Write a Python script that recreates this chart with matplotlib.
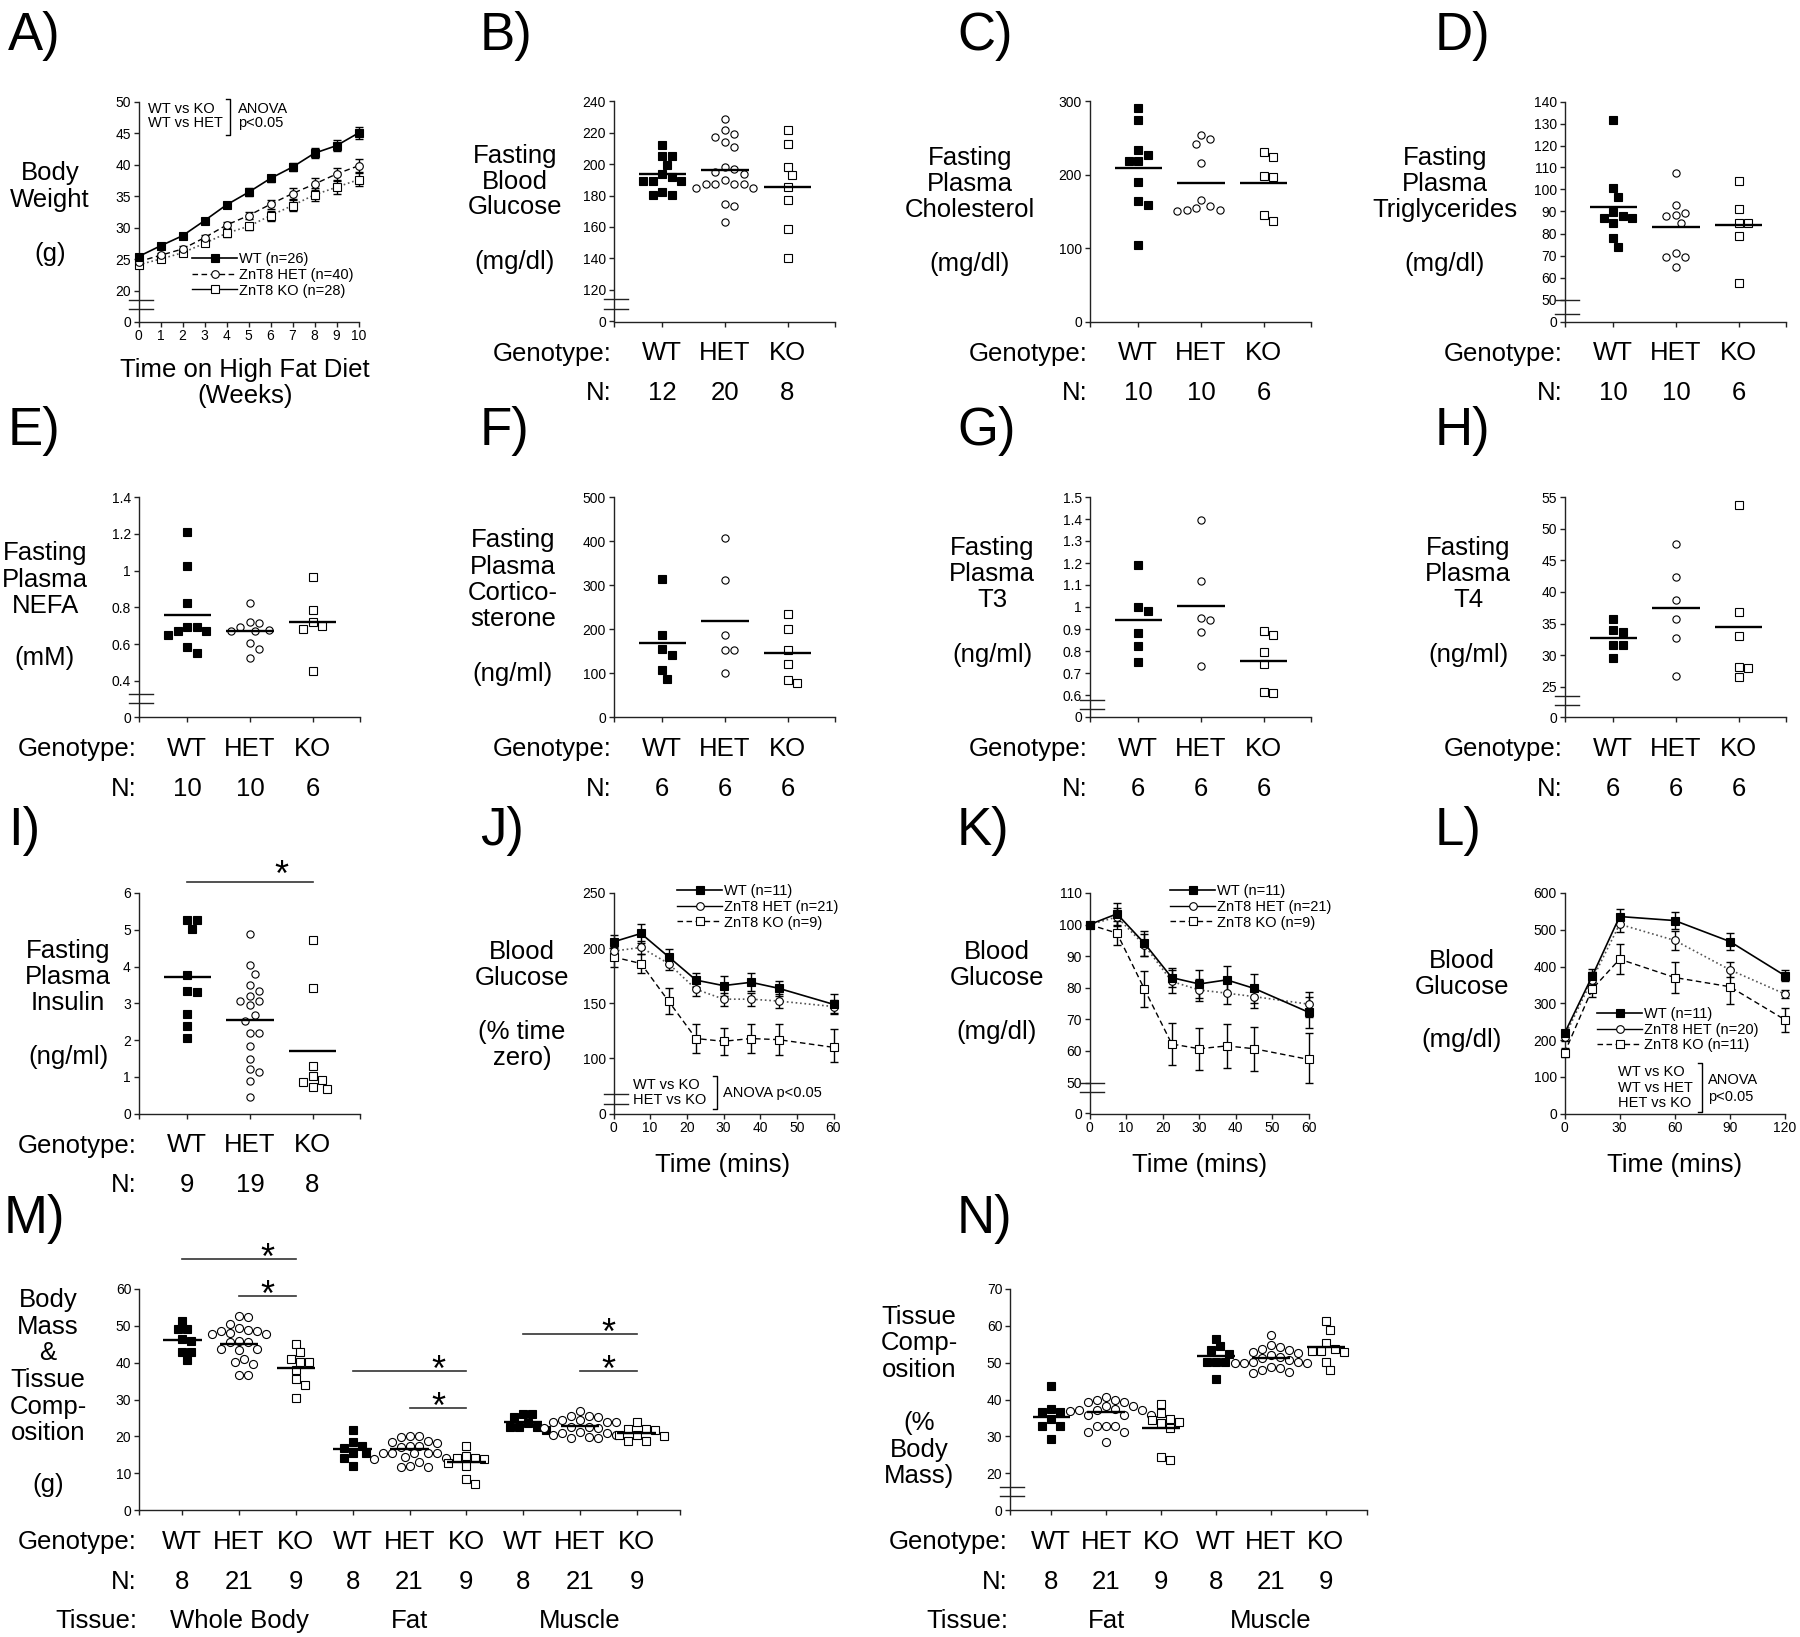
import numpy as np
import matplotlib.pyplot as plt
from matplotlib import transforms
from matplotlib.lines import Line2D

plt.rcParams['font.family'] = ['Liberation Sans', 'DejaVu Sans']
plt.rcParams['axes.linewidth'] = 1.0
plt.rcParams['xtick.major.size'] = 3.5
plt.rcParams['ytick.major.size'] = 3.5
plt.rcParams['xtick.major.width'] = 1.0
plt.rcParams['ytick.major.width'] = 1.0
plt.rcParams['xtick.labelsize'] = 10
plt.rcParams['ytick.labelsize'] = 10
plt.rcParams['xtick.major.pad'] = 2
plt.rcParams['ytick.major.pad'] = 2

genotypes = ['WT', 'HET', 'KO']

# A) body weight on high fat diet
weeks = np.arange(11)
bw_wt = [25.4, 27.1, 28.7, 31.1, 33.6, 35.6, 37.8, 39.6, 41.8, 43.0, 45.0]
bw_wt_err = [0.4, 0.4, 0.4, 0.4, 0.5, 0.6, 0.6, 0.7, 0.8, 0.9, 1.0]
bw_het = [24.6, 25.6, 26.6, 28.4, 30.4, 31.9, 33.7, 35.4, 36.9, 38.5, 39.8]
bw_het_err = [0.4, 0.4, 0.4, 0.5, 0.5, 0.6, 0.7, 0.8, 0.9, 1.0, 1.0]
bw_ko = [24.1, 25.0, 26.0, 27.5, 29.1, 30.2, 31.9, 33.5, 35.2, 36.4, 37.6]
bw_ko_err = [0.4, 0.4, 0.5, 0.5, 0.6, 0.6, 0.8, 0.9, 1.0, 1.0, 1.0]

# B) fasting blood glucose
glc_wt = [212.4, 205.4, 205.4, 199.6, 191.8, 193.9, 189.0, 189.0, 189.0, 180.5, 182.0, 180.5]
glc_het = [229.0, 219.4, 222.0, 217.1, 213.9, 210.7, 198.2, 194.8, 196.9, 193.9,
           187.5, 187.5, 187.5, 189.6, 184.8, 184.8, 187.5, 173.5, 174.8, 162.9]
glc_ko = [222.0, 212.8, 198.2, 192.8, 185.2, 177.3, 158.9, 140.2]
glc_mean = [193.7, 196.5, 185.6]
glc_n = [12, 20, 8]

# C) cholesterol
chol_wt = [290.5, 275.0, 226.9, 233.7, 219.2, 219.2, 190.6, 164.7, 158.8, 104.8]
chol_het = [248.7, 254.6, 241.9, 215.6, 166.1, 152.0, 154.7, 157.0, 151.1, 152.0]
chol_ko = [224.6, 230.5, 196.5, 198.8, 145.2, 136.6]
chol_mean = [208.8, 188.3, 188.3]
chol_n = [10, 10, 6]

# D) triglycerides
tg_wt = [131.7, 100.5, 96.4, 89.9, 87.2, 87.2, 88.1, 84.6, 78.1, 74.0]
tg_het = [107.7, 93.0, 89.5, 88.4, 88.1, 84.6, 69.1, 71.2, 69.1, 64.6]
tg_ko = [103.9, 91.1, 84.6, 84.6, 79.0, 57.6]
tg_mean = [92.2, 82.8, 83.8]
tg_n = [10, 10, 6]

# E) NEFA
nefa_wt = [1.208, 1.023, 0.823, 0.692, 0.650, 0.669, 0.669, 0.692, 0.583, 0.551]
nefa_het = [0.826, 0.718, 0.714, 0.674, 0.692, 0.678, 0.669, 0.609, 0.572, 0.525]
nefa_ko = [0.963, 0.783, 0.681, 0.696, 0.718, 0.456]
nefa_mean = [0.759, 0.672, 0.718]
nefa_n = [10, 10, 6]

# F) corticosterone
cort_wt = [313.8, 186.2, 140.6, 153.5, 107.9, 87.4]
cort_het = [406.5, 311.6, 186.2, 152.0, 152.0, 100.3]
cort_ko = [233.3, 199.1, 152.0, 120.1, 77.5, 83.6]
cort_mean = [168.7, 218.8, 144.4]
cort_n = [6, 6, 6]

# G) T3
t3_wt = [1.192, 0.982, 0.998, 0.881, 0.823, 0.749]
t3_het = [1.394, 1.118, 0.942, 0.952, 0.887, 0.732]
t3_ko = [0.873, 0.891, 0.794, 0.740, 0.615, 0.611]
t3_mean = [0.941, 1.005, 0.755]
t3_n = [6, 6, 6]

# H) T4
t4_wt = [35.7, 33.7, 34.0, 31.6, 31.6, 29.6]
t4_het = [47.6, 42.3, 38.7, 35.7, 32.8, 26.7]
t4_ko = [53.8, 36.8, 33.0, 28.2, 28.0, 26.6]
t4_mean = [32.7, 37.4, 34.4]
t4_n = [6, 6, 6]

# I) insulin
ins_wt = [5.26, 5.26, 5.02, 3.78, 3.30, 3.33, 2.72, 2.39, 2.06]
ins_het = [4.89, 4.03, 3.80, 3.49, 3.34, 3.21, 3.07, 3.07, 2.94, 2.69,
           2.51, 2.19, 2.19, 1.83, 1.47, 1.20, 1.14, 0.88, 0.45]
ins_ko = [4.73, 3.42, 1.29, 1.01, 0.90, 0.86, 0.72, 0.67]
ins_mean = [3.71, 2.54, 1.71]
ins_n = [9, 19, 8]
ins_sig = [(1, 3, 6.3)]

# J) ITT, % time zero
itt_t = [0, 7.5, 15, 22.5, 30, 37.5, 45, 60]
itt_pct_wt = [205.7, 213.3, 192.2, 171.0, 166.0, 169.0, 163.6, 149.0]
itt_pct_wt_err = [6, 9, 7, 6, 9, 8, 7, 9]
itt_pct_het = [197.3, 200.6, 186.0, 162.7, 153.7, 153.7, 152.0, 147.0]
itt_pct_het_err = [5, 6, 6, 6, 6, 6, 6, 6]
itt_pct_ko = [192.0, 186.0, 152.0, 118.0, 115.5, 118.0, 117.0, 110.0]
itt_pct_ko_err = [9, 9, 12, 13, 12, 13, 14, 17]

# K) ITT, mg/dl
itt_mg_wt = [100.0, 103.4, 94.1, 83.2, 81.2, 82.5, 79.8, 72.2]
itt_mg_wt_err = [0.5, 3.5, 4.0, 3.0, 4.5, 4.5, 4.5, 5.0]
itt_mg_het = [100.0, 102.4, 93.5, 82.0, 79.3, 78.3, 77.2, 74.8]
itt_mg_het_err = [0.5, 3.0, 3.5, 3.5, 3.5, 3.5, 3.5, 4.0]
itt_mg_ko = [100.0, 97.3, 79.6, 62.2, 60.7, 61.6, 60.7, 57.3]
itt_mg_ko_err = [0.5, 3.8, 5.6, 6.5, 6.7, 6.9, 7.0, 8.3]

# L) GTT
gtt_t = [0, 15, 30, 60, 90, 120]
gtt_wt = [218, 373, 536, 525, 468, 375]
gtt_wt_err = [10, 20, 20, 22, 22, 15]
gtt_het = [209, 364, 515, 471, 391, 325]
gtt_het_err = [12, 20, 20, 25, 20, 12]
gtt_ko = [165, 338, 420, 370, 345, 255]
gtt_ko_err = [12, 20, 40, 43, 48, 33]

# M) body mass & tissue composition (g)
mass_body_wt = [51.2, 49.1, 49.1, 46.4, 46.0, 43.0, 43.0, 40.8]
mass_body_het = [52.6, 52.4, 50.6, 48.6, 48.6, 49.5, 48.8, 48.0, 47.8, 47.8, 45.5,
                 46.0, 45.5, 43.7, 43.5, 43.7, 40.1, 39.6, 41.1, 36.7, 36.7]
mass_body_ko = [45.0, 42.8, 41.0, 40.1, 40.3, 38.1, 35.5, 34.0, 30.4]
mass_fat_wt = [21.6, 18.4, 16.8, 17.5, 15.4, 15.4, 14.0, 12.0]
mass_fat_het = [19.8, 20.0, 20.2, 18.1, 18.8, 17.5, 18.4, 17.2, 17.5, 15.6, 15.4,
                15.5, 15.4, 15.4, 13.8, 14.5, 14.2, 13.0, 12.0, 11.8, 11.8]
mass_fat_ko = [17.5, 14.0, 14.0, 14.7, 13.8, 12.7, 12.0, 8.3, 7.1]
mass_mus_wt = [25.2, 26.0, 26.0, 23.7, 22.6, 21.7, 22.6, 22.6]
mass_mus_het = [26.9, 25.4, 25.4, 25.2, 24.3, 24.5, 23.8, 23.8, 23.8, 22.2, 22.5,
                22.2, 22.6, 21.1, 20.4, 20.8, 20.4, 19.5, 19.5, 19.7, 20.8]
mass_mus_ko = [23.8, 21.9, 21.9, 21.6, 20.4, 18.8, 18.6, 20.0, 20.4]
mass_mean = [46.1, 45.1, 38.5, 16.5, 16.5, 12.9, 24.0, 22.8, 20.8]
mass_n = [8, 21, 9, 8, 21, 9, 8, 21, 9]
mass_sig = [(1, 3, 68.2), (2, 3, 58.1), (4, 6, 37.7), (5, 6, 27.7), (7, 9, 47.8), (8, 9, 37.7)]

# N) tissue composition (% body mass)
pct_fat_wt = [43.7, 37.4, 36.5, 36.5, 34.7, 32.7, 32.7, 29.2]
pct_fat_het = [40.8, 39.9, 39.9, 39.2, 39.2, 37.4, 37.2, 38.3, 37.0, 37.2, 37.2,
               35.9, 35.9, 32.7, 32.7, 32.7, 31.1, 31.1, 28.4, 35.9, 38.3]
pct_fat_ko = [38.8, 36.3, 34.0, 34.3, 34.7, 33.6, 32.2, 23.6, 24.3]
pct_mus_wt = [56.5, 53.5, 54.4, 52.4, 50.3, 50.3, 50.3, 45.6]
pct_mus_het = [57.4, 54.2, 54.9, 53.7, 53.5, 52.6, 52.8, 52.2, 51.5, 51.2, 48.7,
               48.1, 49.9, 50.1, 49.9, 50.1, 47.6, 47.2, 50.0, 48.5, 50.8]
pct_mus_ko = [61.2, 58.9, 55.3, 53.1, 53.1, 53.8, 52.9, 50.3, 47.9]
pct_mean = [35.2, 36.5, 32.3, 51.7, 51.2, 54.2]
pct_n = [8, 21, 9, 8, 21, 9]

# ---------------------------------------------------------------------------
W, H = 1800, 1637
AXC = '#222222'
BIG = 18.5
SMALL = 10.5
fig = plt.figure(figsize=(W / 100, H / 100), dpi=100)


def marks(g, ms):
    fill = 'k' if g == 'WT' else 'w'
    return dict(marker='o' if g == 'HET' else 's', mfc=fill, mec='k', ms=ms, mew=0.8)


def ftext(x, y, s, **kw):
    return fig.text(x / W, 1 - y / H, s, **kw)


def make_ax(left, top, right, bottom):
    ax = fig.add_axes([left / W, 1 - bottom / H, (right - left) / W, (bottom - top) / H])
    for s in ('top', 'right'):
        ax.spines[s].set_visible(False)
    for s in ('left', 'bottom'):
        ax.spines[s].set_color(AXC)
    ax.tick_params(colors=AXC, labelcolor='k')
    return ax


def broken_y(ax, lo, gap):
    def fwd(y):
        y = np.asarray(y, float)
        return np.where(y >= lo, y, lo - gap + y * gap / lo)

    def inv(p):
        p = np.asarray(p, float)
        return np.where(p >= lo, p, (p - lo + gap) * lo / gap)
    ax.set_yscale('function', functions=(fwd, inv))


def break_marks(ax, lo, f1, f2):
    tr = transforms.blended_transform_factory(ax.transAxes, ax.transData)
    w = ax.get_position().width * W
    for f in (f1, f2):
        y = lo * (1 - f)
        ax.plot([-10 / w, 14 / w], [y, y], color=AXC, lw=1.0, transform=tr, clip_on=False)


def set_y(ax, ylim, yticks, lo=None, gap=None, brk=None):
    if lo is not None:
        broken_y(ax, lo, gap)
    ax.set_ylim(*ylim)
    ax.set_yticks(yticks)
    ax.set_yticklabels([f'{t:g}' for t in yticks])
    ax.yaxis.set_minor_locator(plt.NullLocator())
    if brk is not None:
        break_marks(ax, lo, *brk)


def swarm_x(ax, x0, vals, d=9.5):
    vals = np.asarray(vals, float)
    tr = ax.transData
    pts = tr.transform(np.column_stack([np.full(len(vals), x0), vals]))
    px_x = tr.transform([(x0 + 1, vals[0])])[0, 0] - pts[0, 0]
    cands = [0.0]
    for k in range(1, 30):
        cands += [k * d / 2, -k * d / 2]
    offs = np.zeros(len(vals))
    placed = []
    for i in np.argsort(-vals, kind='stable'):
        y = pts[i, 1]
        for c in cands:
            if all((c - ox) ** 2 + (y - oy) ** 2 >= d * d * 0.98 for ox, oy in placed):
                offs[i] = c
                placed.append((c, y))
                break
    return x0 + offs / px_x


def dot_panel(ax, groups, means, xlim, hw=0.38, d=9.5, ms=5.2):
    ax.set_xlim(*xlim)
    ax.set_xticks([xlim[0]] + list(range(1, len(groups) + 1)) + [xlim[1]])
    ax.set_xticklabels([])
    for i, (vals, m) in enumerate(zip(groups, means)):
        x0 = i + 1
        g = genotypes[i % 3]
        xs = swarm_x(ax, x0, vals, d)
        ax.plot(xs, vals, ls='none', clip_on=False, zorder=3, **marks(g, ms))
        ax.plot([x0 - hw, x0 + hw], [m, m], color='k', lw=1.7, zorder=4,
                solid_capstyle='butt', clip_on=False)


def sig_bars(ax, bars, up_px):
    for x1, x2, y in bars:
        ax.plot([x1, x2], [y, y], color='#333333', lw=1.2, clip_on=False)
        ax.annotate('*', xy=(x2 - 0.5, y), xytext=(0, up_px * 0.72 - 14.9),
                    textcoords='offset points', ha='center', va='baseline',
                    fontsize=26, annotation_clip=False)


def geno_rows(ax, ns, tissues=None):
    tr = transforms.blended_transform_factory(ax.transData, fig.transFigure)
    pos = ax.get_position()
    xl = pos.x0 - 2 / W
    yb = (1 - pos.y0) * H
    rows = [('Genotype:', [genotypes[i % 3] for i in range(len(ns))], 39),
            ('N:', [str(n) for n in ns], 79)]
    for head, labs, dy in rows:
        y = 1 - (yb + dy) / H
        fig.text(xl, y, head, ha='right', va='baseline', fontsize=BIG)
        for i, s in enumerate(labs):
            ax.text(i + 1, y, s, transform=tr, ha='center', va='baseline', fontsize=BIG)
    if tissues:
        y = 1 - (yb + 118) / H
        fig.text(xl, y, 'Tissue:', ha='right', va='baseline', fontsize=BIG)
        for s, x in tissues:
            ax.text(x, y, s, transform=tr, ha='center', va='baseline', fontsize=BIG)


def ylab(x, lines):
    for s, y in lines:
        ftext(x, y, s, ha='center', va='center', fontsize=BIG)


def err_line(ax, t, y, e, style):
    eb = ax.errorbar(t, y, yerr=e, fmt='none', ecolor='k', elinewidth=1.0,
                     capsize=3.2, capthick=1.0, zorder=2)
    for art in list(eb.lines[1]) + list(eb.lines[2]):
        art.set_clip_on(False)
    ax.plot(t, y, clip_on=False, zorder=3, **style)


def legend_at(ax, styles, labels, x, y):
    handles = [Line2D([], [], **s) for s in styles]
    ax.legend(handles, labels, loc='upper left', bbox_to_anchor=(x / W, 1 - y / H),
              bbox_transform=fig.transFigure, frameon=False, borderpad=0,
              borderaxespad=0, handlelength=3.1, handletextpad=0.15,
              labelspacing=0.12, fontsize=SMALL, numpoints=1)


def bracket(x, y0, y1, stub=4):
    fig.add_artist(Line2D([(x - stub) / W, x / W, x / W, (x - stub) / W],
                          [1 - y0 / H, 1 - y0 / H, 1 - y1 / H, 1 - y1 / H],
                          color='k', lw=1.0))


WT_L = dict(color='k', ls='-', lw=1.2, marker='s', mfc='k', mec='k', ms=5.5, mew=0.8)
HET_DASH = dict(color='k', ls=(0, (4, 2.5)), lw=1.0, marker='o', mfc='w', mec='k', ms=5.5, mew=0.8)
HET_DOT = dict(color='#555555', ls=':', lw=1.2, marker='o', mfc='w', mec='k', ms=5.5, mew=0.8)
HET_SOLID = dict(color='k', ls='-', lw=1.0, marker='o', mfc='w', mec='k', ms=5.5, mew=0.8)
KO_DOT = dict(color='#555555', ls=':', lw=1.2, marker='s', mfc='w', mec='k', ms=5.5, mew=0.8)
KO_SOLID = dict(color='k', ls='-', lw=1.0, marker='s', mfc='w', mec='k', ms=5.5, mew=0.8)
KO_DASH = dict(color='k', ls=(0, (4, 2.5)), lw=1.0, marker='s', mfc='w', mec='k', ms=5.5, mew=0.8)

XL3 = (0.22, 3.75)
COLS = [138.5, 613.5, 1089.5, 1564.5]
AXW = 221
ROWS = [(101.5, 321.5), (497, 717), (893, 1113.5), (1289, 1510)]

# ---------------- A ----------------
ax = make_ax(COLS[0], ROWS[0][0], COLS[0] + 220, ROWS[0][1])
set_y(ax, (0, 50), [0, 20, 25, 30, 35, 40, 45, 50], lo=20, gap=4.9, brk=(0.29, 0.58))
ax.set_xlim(0, 10)
ax.set_xticks(weeks)
err_line(ax, weeks, bw_ko, bw_ko_err, KO_DOT)
err_line(ax, weeks, bw_het, bw_het_err, HET_DASH)
err_line(ax, weeks, bw_wt, bw_wt_err, WT_L)
legend_at(ax, [WT_L, HET_DASH, KO_SOLID],
          ['WT (n=26)', 'ZnT8 HET (n=40)', 'ZnT8 KO (n=28)'], 192, 252)
ftext(148, 109, 'WT vs KO', ha='left', va='center', fontsize=SMALL)
ftext(148, 123, 'WT vs HET', ha='left', va='center', fontsize=SMALL)
bracket(230, 99, 135)
ftext(238, 109, 'ANOVA', ha='left', va='center', fontsize=SMALL)
ftext(238, 123, 'p<0.05', ha='left', va='center', fontsize=SMALL)
ylab(50, [('Body', 173), ('Weight', 200), ('(g)', 254)])
ftext(245, 377, 'Time on High Fat Diet', ha='center', va='baseline', fontsize=BIG)
ftext(245, 403, '(Weeks)', ha='center', va='baseline', fontsize=BIG)

# ---------------- B ----------------
ax = make_ax(COLS[1], ROWS[0][0], COLS[1] + AXW, ROWS[0][1])
set_y(ax, (0, 240), [0, 120, 140, 160, 180, 200, 220, 240], lo=120, gap=20.4, brk=(0.31, 0.6))
dot_panel(ax, [glc_wt, glc_het, glc_ko], glc_mean, XL3)
geno_rows(ax, glc_n)
ylab(515, [('Fasting', 156), ('Blood', 182), ('Glucose', 207), ('(mg/dl)', 262)])

# ---------------- C ----------------
ax = make_ax(COLS[2], ROWS[0][0], COLS[2] + AXW, ROWS[0][1])
set_y(ax, (0, 300), [0, 100, 200, 300])
dot_panel(ax, [chol_wt, chol_het, chol_ko], chol_mean, XL3)
geno_rows(ax, chol_n)
ylab(970, [('Fasting', 158), ('Plasma', 184), ('Cholesterol', 210), ('(mg/dl)', 264)])

# ---------------- D ----------------
ax = make_ax(COLS[3], ROWS[0][0], COLS[3] + AXW, ROWS[0][1])
set_y(ax, (0, 140), [0] + list(range(50, 141, 10)), lo=50, gap=10, brk=(0.02, 0.64))
dot_panel(ax, [tg_wt, tg_het, tg_ko], tg_mean, XL3)
geno_rows(ax, tg_n)
ylab(1445, [('Fasting', 158), ('Plasma', 184), ('Triglycerides', 210), ('(mg/dl)', 264)])

# ---------------- E ----------------
ax = make_ax(COLS[0], ROWS[1][0], COLS[0] + AXW, ROWS[1][1])
set_y(ax, (0, 1.4), [0, 0.4, 0.6, 0.8, 1.0, 1.2, 1.4], lo=0.4, gap=0.196, brk=(0.36, 0.61))
dot_panel(ax, [nefa_wt, nefa_het, nefa_ko], nefa_mean, XL3)
geno_rows(ax, nefa_n)
ylab(45, [('Fasting', 553), ('Plasma', 580), ('NEFA', 606), ('(mM)', 658)])

# ---------------- F ----------------
ax = make_ax(COLS[1], ROWS[1][0], COLS[1] + AXW, ROWS[1][1])
set_y(ax, (0, 500), [0, 100, 200, 300, 400, 500])
dot_panel(ax, [cort_wt, cort_het, cort_ko], cort_mean, XL3)
geno_rows(ax, cort_n)
ylab(513, [('Fasting', 540), ('Plasma', 567), ('Cortico-', 593), ('sterone', 619), ('(ng/ml)', 674)])

# ---------------- G ----------------
ax = make_ax(COLS[2], ROWS[1][0], COLS[2] + AXW, ROWS[1][1])
set_y(ax, (0, 1.5), [0, 0.6, 0.7, 0.8, 0.9, 1.0, 1.1, 1.2, 1.3, 1.4, 1.5],
      lo=0.6, gap=0.1, brk=(0.23, 0.64))
dot_panel(ax, [t3_wt, t3_het, t3_ko], t3_mean, XL3)
geno_rows(ax, t3_n)
ylab(992, [('Fasting', 548), ('Plasma', 574), ('T3', 600), ('(ng/ml)', 655)])

# ---------------- H ----------------
ax = make_ax(COLS[3], ROWS[1][0], COLS[3] + AXW, ROWS[1][1])
set_y(ax, (0, 55), [0, 25, 30, 35, 40, 45, 50, 55], lo=25, gap=4.74, brk=(0.3, 0.6))
dot_panel(ax, [t4_wt, t4_het, t4_ko], t4_mean, XL3)
geno_rows(ax, t4_n)
ylab(1468, [('Fasting', 548), ('Plasma', 574), ('T4', 600), ('(ng/ml)', 655)])

# ---------------- I ----------------
ax = make_ax(COLS[0], ROWS[2][0], COLS[0] + AXW, ROWS[2][1])
set_y(ax, (0, 6), [0, 1, 2, 3, 4, 5, 6])
dot_panel(ax, [ins_wt, ins_het, ins_ko], ins_mean, XL3)
sig_bars(ax, ins_sig, 17)
geno_rows(ax, ins_n)
ylab(68, [('Fasting', 951), ('Plasma', 977), ('Insulin', 1003), ('(ng/ml)', 1057)])

# ---------------- J ----------------
ax = make_ax(COLS[1], ROWS[2][0], COLS[1] + 220, ROWS[2][1])
set_y(ax, (0, 250), [0, 100, 150, 200, 250], lo=100, gap=50, brk=(0.65, 0.82))
ax.set_xlim(0, 60)
ax.set_xticks(range(0, 61, 10))
err_line(ax, itt_t, itt_pct_ko, itt_pct_ko_err, KO_DASH)
err_line(ax, itt_t, itt_pct_het, itt_pct_het_err, HET_DOT)
err_line(ax, itt_t, itt_pct_wt, itt_pct_wt_err, WT_L)
legend_at(ax, [WT_L, HET_SOLID, KO_DASH],
          ['WT (n=11)', 'ZnT8 HET (n=21)', 'ZnT8 KO (n=9)'], 677, 884)
ftext(633, 1085, 'WT vs KO', ha='left', va='center', fontsize=SMALL)
ftext(633, 1100, 'HET vs KO', ha='left', va='center', fontsize=SMALL)
bracket(717, 1076, 1109)
ftext(723, 1093, 'ANOVA p<0.05', ha='left', va='center', fontsize=SMALL)
ylab(522, [('Blood', 952), ('Glucose', 978), ('(% time', 1032), ('zero)', 1058)])
ftext(723, 1172, 'Time (mins)', ha='center', va='baseline', fontsize=BIG)

# ---------------- K ----------------
ax = make_ax(COLS[2], ROWS[2][0], COLS[2] + 219.5, ROWS[2][1])
set_y(ax, (0, 110), [0, 50, 60, 70, 80, 90, 100, 110], lo=50, gap=9.8, brk=(0.03, 0.32))
ax.set_xlim(0, 60)
ax.set_xticks(range(0, 61, 10))
err_line(ax, itt_t, itt_mg_ko, itt_mg_ko_err, KO_DASH)
err_line(ax, itt_t, itt_mg_het, itt_mg_het_err, HET_DOT)
err_line(ax, itt_t, itt_mg_wt, itt_mg_wt_err, WT_L)
legend_at(ax, [WT_L, HET_SOLID, KO_DASH],
          ['WT (n=11)', 'ZnT8 HET (n=21)', 'ZnT8 KO (n=9)'], 1170, 884)
ylab(997, [('Blood', 952), ('Glucose', 978), ('(mg/dl)', 1032)])
ftext(1200, 1172, 'Time (mins)', ha='center', va='baseline', fontsize=BIG)

# ---------------- L ----------------
ax = make_ax(COLS[3], ROWS[2][0], COLS[3] + 220.5, ROWS[2][1])
set_y(ax, (0, 600), [0, 100, 200, 300, 400, 500, 600])
ax.set_xlim(0, 120)
ax.set_xticks(range(0, 121, 30))
err_line(ax, gtt_t, gtt_ko, gtt_ko_err, KO_DASH)
err_line(ax, gtt_t, gtt_het, gtt_het_err, HET_DOT)
err_line(ax, gtt_t, gtt_wt, gtt_wt_err, WT_L)
legend_at(ax, [WT_L, HET_SOLID, KO_DASH],
          ['WT (n=11)', 'ZnT8 HET (n=20)', 'ZnT8 KO (n=11)'], 1597, 1007)
ftext(1618, 1072, 'WT vs KO', ha='left', va='center', fontsize=SMALL)
ftext(1618, 1088, 'WT vs HET', ha='left', va='center', fontsize=SMALL)
ftext(1618, 1103, 'HET vs KO', ha='left', va='center', fontsize=SMALL)
bracket(1702, 1063, 1112)
ftext(1708, 1080, 'ANOVA', ha='left', va='center', fontsize=SMALL)
ftext(1708, 1097, 'p<0.05', ha='left', va='center', fontsize=SMALL)
ylab(1462, [('Blood', 961), ('Glucose', 987), ('(mg/dl)', 1040)])
ftext(1675, 1172, 'Time (mins)', ha='center', va='baseline', fontsize=BIG)

# ---------------- M ----------------
ax = make_ax(139, ROWS[3][0], 680, ROWS[3][1])
set_y(ax, (0, 60), [0, 10, 20, 30, 40, 50, 60])
dot_panel(ax, [mass_body_wt, mass_body_het, mass_body_ko, mass_fat_wt, mass_fat_het,
               mass_fat_ko, mass_mus_wt, mass_mus_het, mass_mus_ko],
          mass_mean, (0.24, 9.76), hw=0.34, d=9, ms=5.8)
sig_bars(ax, mass_sig, 11)
geno_rows(ax, mass_n, tissues=[('Whole Body', 2), ('Fat', 5), ('Muscle', 8)])
ylab(48, [('Body', 1300), ('Mass', 1327), ('&', 1353), ('Tissue', 1380),
          ('Comp-', 1407), ('osition', 1433), ('(g)', 1485)])

# ---------------- N ----------------
ax = make_ax(1010, ROWS[3][0], 1366.5, ROWS[3][1])
set_y(ax, (0, 70), [0, 20, 30, 40, 50, 60, 70], lo=20, gap=10, brk=(0.38, 0.62))
dot_panel(ax, [pct_fat_wt, pct_fat_het, pct_fat_ko, pct_mus_wt, pct_mus_het, pct_mus_ko],
          pct_mean, (0.25, 6.74), hw=0.34, d=9, ms=5.8)
geno_rows(ax, pct_n, tissues=[('Fat', 2), ('Muscle', 5)])
ylab(919, [('Tissue', 1317), ('Comp-', 1343), ('osition', 1370),
           ('(%', 1423), ('Body', 1450), ('Mass)', 1476)])

# panel letters
for s, x, y in [('A)', 8, 50), ('B)', 480, 50), ('C)', 957, 50), ('D)', 1435, 50),
                ('E)', 8, 445), ('F)', 480, 445), ('G)', 957, 445), ('H)', 1435, 445),
                ('I)', 8, 845), ('J)', 480, 845), ('K)', 957, 845), ('L)', 1435, 845),
                ('M)', 4, 1233), ('N)', 957, 1233)]:
    ftext(x, y, s, ha='left', va='baseline', fontsize=38)

fig.savefig('out.png', dpi=100)
